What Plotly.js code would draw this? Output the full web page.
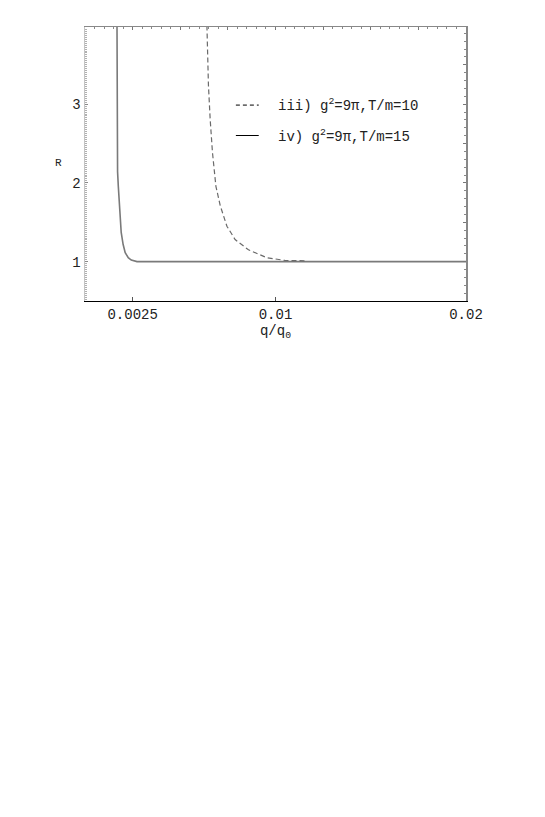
<!DOCTYPE html>
<html>
<head>
<meta charset="utf-8">
<script src="https://cdn.plot.ly/plotly-3.0.1.min.js"></script>
<style>html,body{margin:0;padding:0;background:#fff;}#chart{width:545px;height:817px;}</style>
</head>
<body>
<div id="chart"></div>
<script>
// ---- data ----
const qIII = [0.0064, 0.00648, 0.00657, 0.00669, 0.00687, 0.0071, 0.00745, 0.00788, 0.00858, 0.00955, 0.0105, 0.0116];
const rIII = [4.0, 3.24, 2.81, 2.39, 1.96, 1.71, 1.45, 1.28, 1.15, 1.05, 1.015, 1.01];

const qIV = [0.00168, 0.00168, 0.00171, 0.00175, 0.0018, 0.0019, 0.002, 0.00211, 0.00227, 0.00243, 0.00273, 0.005, 0.01, 0.015, 0.02];
const rIV = [4.0, 2.47, 2.14, 1.95, 1.79, 1.37, 1.22, 1.115, 1.05, 1.02, 1.0, 1.0, 1.0, 1.0, 1.0];

const xTickVals = [0.0025, 0.01, 0.02];
const xTickText = ["0.0025", "0.01", "0.02"];
const yTickVals = [1, 2, 3];
const yTickText = ["1", "2", "3"];

const legendLabels = ["iii) g<sup>2</sup>=9π,T/m=10", "iv) g<sup>2</sup>=9π,T/m=15"];
const xTitle = "q/q<sub>0</sub>";
const yTitle = "R";

const mono = "Liberation Mono, Courier New, monospace";

const traces = [
  {x: qIV, y: rIV, xaxis: 'x', yaxis: 'y', mode: 'lines', name: legendLabels[1],
   line: {color: '#7a7a7a', width: 1.6}, showlegend: false, hoverinfo: 'skip'},
  {x: qIII, y: rIII, xaxis: 'x2', yaxis: 'y2', mode: 'lines', name: legendLabels[0],
   line: {color: '#6a6a6a', width: 1.2, dash: '5px,3px'}, showlegend: false, hoverinfo: 'skip'}
];

const xr = [0, 0.02];
const yr = [0.5, 3.98];

const layout = {
  width: 545, height: 817,
  margin: {l: 85, r: 79, t: 27, b: 516},
  paper_bgcolor: '#ffffff', plot_bgcolor: '#ffffff',
  showlegend: false,
  font: {family: mono, size: 14, color: '#222'},
  xaxis: {
    range: xr, tickvals: xTickVals, ticktext: xTickText,
    ticks: 'inside', ticklen: 4, tickcolor: '#555', tickwidth: 1,
    showline: true, linecolor: '#000', linewidth: 1.2,
    showgrid: false, zeroline: false,
    tickfont: {family: mono, size: 14, color: '#222'},
    title: {text: xTitle, font: {family: mono, size: 14, color: '#222'}, standoff: 0}
  },
  yaxis: {
    range: yr, tickvals: yTickVals, ticktext: yTickText,
    ticks: 'inside', ticklen: 3, tickcolor: '#888',
    showline: true, linecolor: '#c4c4c4', linewidth: 1.5,
    showgrid: false, zeroline: false,
    tickfont: {family: mono, size: 14, color: '#222'},
    minor: {ticks: 'inside', dtick: 0.025, ticklen: 2, tickcolor: '#b0b0b0', showgrid: false}
  },
  xaxis2: {
    matches: 'x', overlaying: 'x', side: 'top', anchor: 'y2',
    range: xr, showticklabels: false, dtick: 0.0025, tick0: 0,
    ticks: 'inside', ticklen: 3, tickcolor: '#777',
    showline: true, linecolor: '#888', linewidth: 1.5,
    showgrid: false, zeroline: false,
    minor: {ticks: 'inside', dtick: 0.0005, ticklen: 2, tickcolor: '#888', showgrid: false}
  },
  yaxis2: {
    matches: 'y', overlaying: 'y', side: 'right', anchor: 'x2',
    range: yr, showticklabels: false, dtick: 0.5, tick0: 0,
    ticks: 'inside', ticklen: 3, tickcolor: '#777',
    showline: true, linecolor: '#888', linewidth: 1.5,
    showgrid: false, zeroline: false,
    minor: {ticks: 'inside', dtick: 0.1, ticklen: 2, tickcolor: '#888', showgrid: false}
  },
  shapes: [
    {type: 'line', xref: 'paper', yref: 'paper', x0: 0.396, x1: 0.456, y0: 0.715, y1: 0.715,
     line: {color: '#000', width: 1, dash: '4px,3px'}},
    {type: 'line', xref: 'paper', yref: 'paper', x0: 0.396, x1: 0.456, y0: 0.604, y1: 0.604,
     line: {color: '#000', width: 1}}
  ],
  annotations: [
    {text: legendLabels[0], xref: 'paper', yref: 'paper', x: 0.50, y: 0.715,
     xanchor: 'left', yanchor: 'middle', showarrow: false,
     font: {family: mono, size: 14, color: '#222'}},
    {text: legendLabels[1], xref: 'paper', yref: 'paper', x: 0.50, y: 0.604,
     xanchor: 'left', yanchor: 'middle', showarrow: false,
     font: {family: mono, size: 14, color: '#222'}},
    {text: yTitle, xref: 'paper', yref: 'paper', x: -0.07, y: 0.505,
     xanchor: 'center', yanchor: 'middle', showarrow: false,
     font: {family: mono, size: 11, color: '#222'}}
  ]
};

Plotly.newPlot('chart', traces, layout, {staticPlot: true, displayModeBar: false});
</script>
</body>
</html>
